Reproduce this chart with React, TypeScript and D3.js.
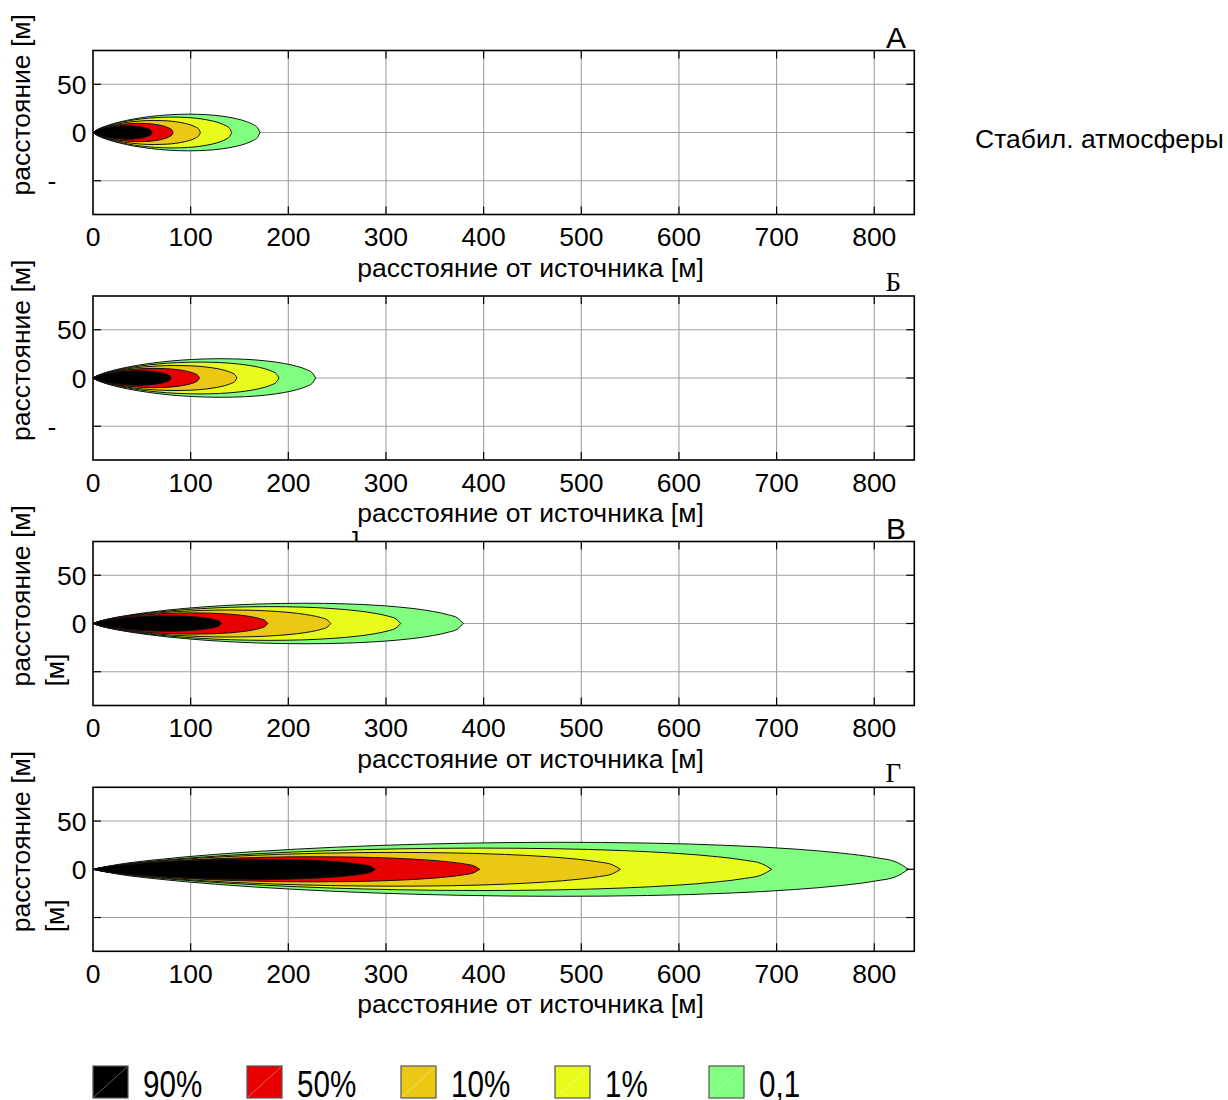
import React from "react";
import * as d3 from "d3";

// ---- data ----
const LEVEL_LABELS = ["90%", "50%", "10%", "1%", "0,1"];
const LEVEL_COLORS = ["#000000", "#e80000", "#ebc814", "#e8fc1c", "#80ff80"];
const PANEL_LETTERS = ["А", "Б", "В", "Г"];
const PANEL_LETTER_SERIF = [false, true, false, true];
const X_TICKS = [0, 100, 200, 300, 400, 500, 600, 700, 800];
const Y_TICKS = [-50, 0, 50];

// plume contour lengths (m) and maximum half widths (m), per panel, levels 90%..0,1
const LENGTH_A = [60.5, 82, 110, 142, 171];
const WIDTH_A = [7, 9.5, 12.5, 16, 19];
const LENGTH_B = [80, 109, 147.5, 190.5, 228];
const WIDTH_B = [7.5, 10, 13, 16.5, 20];
const LENGTH_C = [131.5, 179, 243.5, 315, 379];
const WIDTH_C = [8, 11, 14, 17.5, 21];
const LENGTH_D = [289, 396, 540, 695, 835];
const WIDTH_D = [10.5, 13, 17.5, 22, 28];

// contour outline template: relative distance along the plume -> relative half width
const PROFILE_F = [0, 0.03, 0.08, 0.15, 0.25, 0.35, 0.45, 0.57, 0.68, 0.78, 0.86, 0.92, 0.96, 0.985, 1];
const PROFILE_W = [0, 0.176, 0.362, 0.552, 0.747, 0.881, 0.963, 1, 0.971, 0.882, 0.75, 0.592, 0.431, 0.268, 0];

const PANEL_LENGTHS = [LENGTH_A, LENGTH_B, LENGTH_C, LENGTH_D];
const PANEL_WIDTHS = [WIDTH_A, WIDTH_B, WIDTH_C, WIDTH_D];
const Y_TITLE_SECOND_LINE = [false, false, true, true];
const NEG_LABEL = [true, true, false, false];

// ---- layout ----
const SANS = "'Liberation Sans', Arial, sans-serif";
const SERIF = "'Liberation Serif', 'Times New Roman', serif";
const FS = 26.5;
const PLOT_L = 93;
const PLOT_R = 914.3;
const PLOT_H = 164;
const TOPS = [50.5, 296, 541.5, 787.3];
const X_MAX = 841;
const Y_EXT = 85;

function Panel({ idx }: { idx: number }) {
  const top = TOPS[idx];
  const bottom = top + PLOT_H;
  const x = d3.scaleLinear().domain([0, X_MAX]).range([PLOT_L, PLOT_R]);
  const y = d3.scaleLinear().domain([-Y_EXT, Y_EXT]).range([bottom, top]);
  const lengths = PANEL_LENGTHS[idx];
  const widths = PANEL_WIDTHS[idx];
  const pts = PROFILE_F.map((f, i) => ({ f, w: PROFILE_W[i] }));
  const order = [4, 3, 2, 1, 0];
  const clipId = `clip${idx}`;
  const tickLen = 8;
  return (
    <g>
      <defs>
        <clipPath id={clipId}>
          <rect x={PLOT_L} y={top} width={PLOT_R - PLOT_L} height={PLOT_H} />
        </clipPath>
      </defs>
      {/* grid */}
      {X_TICKS.filter((t) => t > 0).map((t) => (
        <line key={"gx" + t} x1={x(t)} x2={x(t)} y1={top} y2={bottom} stroke="#a0a0a0" strokeWidth={1.1} />
      ))}
      {Y_TICKS.map((t) => (
        <line key={"gy" + t} x1={PLOT_L} x2={PLOT_R} y1={y(t)} y2={y(t)} stroke="#a0a0a0" strokeWidth={1.1} />
      ))}
      {/* plumes */}
      <g clipPath={`url(#${clipId})`}>
        {order.map((k) => {
          const L = lengths[k];
          const Wd = widths[k];
          const area = d3
            .area<{ f: number; w: number }>()
            .x((d) => x(d.f * L))
            .y0((d) => y(-d.w * Wd))
            .y1((d) => y(d.w * Wd))
            .curve(d3.curveMonotoneX);
          return (
            <path
              key={"p" + k}
              d={area(pts) || ""}
              fill={LEVEL_COLORS[k]}
              stroke="#111"
              strokeWidth={1}
              strokeLinejoin="round"
            />
          );
        })}
      </g>
      {/* inward ticks */}
      {X_TICKS.filter((t) => t > 0).map((t) => (
        <g key={"tx" + t}>
          <line x1={x(t)} x2={x(t)} y1={bottom} y2={bottom - tickLen} stroke="#000" strokeWidth={1.2} />
          <line x1={x(t)} x2={x(t)} y1={top} y2={top + tickLen} stroke="#000" strokeWidth={1.2} />
        </g>
      ))}
      {Y_TICKS.map((t) => (
        <g key={"ty" + t}>
          <line x1={PLOT_L} x2={PLOT_L + tickLen} y1={y(t)} y2={y(t)} stroke="#000" strokeWidth={1.2} />
          <line x1={PLOT_R} x2={PLOT_R - tickLen} y1={y(t)} y2={y(t)} stroke="#000" strokeWidth={1.2} />
        </g>
      ))}
      {/* frame */}
      <rect x={PLOT_L} y={top} width={PLOT_R - PLOT_L} height={PLOT_H} fill="none" stroke="#000" strokeWidth={1.6} />
      {/* x tick labels */}
      {X_TICKS.map((t) => (
        <text key={"lx" + t} x={x(t)} y={bottom + 31.5} textAnchor="middle" fontSize={FS} fontFamily={SANS}>
          {t}
        </text>
      ))}
      {/* y tick labels */}
      {Y_TICKS.filter((t) => t >= 0).map((t) => (
        <text key={"ly" + t} x={86.5} y={y(t) + 9.5} textAnchor="end" fontSize={FS} fontFamily={SANS}>
          {t}
        </text>
      ))}
      {NEG_LABEL[idx] && (
        <text x={47.5} y={y(-50) + 9.5} fontSize={FS} fontFamily={SANS}>
          -
        </text>
      )}
      {/* axis titles */}
      <text x={530.5} y={bottom + 62} textAnchor="middle" fontSize={FS} fontFamily={SANS}>
        расстояние от источника [м]
      </text>
      <text transform={`translate(30,${top + 145}) rotate(-90)`} fontSize={FS} fontFamily={SANS}>
        расстояние [м]
      </text>
      {Y_TITLE_SECOND_LINE[idx] && (
        <text transform={`translate(64,${top + 145}) rotate(-90)`} fontSize={FS} fontFamily={SANS}>
          [м]
        </text>
      )}
      {/* panel letter */}
      <text
        x={PANEL_LETTER_SERIF[idx] ? 901 : 906}
        y={PANEL_LETTER_SERIF[idx] ? top - 5 : top - 3}
        textAnchor="end"
        fontSize={PANEL_LETTER_SERIF[idx] ? 27 : 30}
        fontFamily={PANEL_LETTER_SERIF[idx] ? SERIF : SANS}
      >
        {PANEL_LETTERS[idx]}
      </text>
    </g>
  );
}

function Legend() {
  const x0 = 93;
  const step = 154;
  const yTop = 1066;
  const h = 32;
  const w = 35;
  return (
    <g>
      {LEVEL_LABELS.map((lab, i) => {
        const sx = x0 + i * step;
        return (
          <g key={lab}>
            <rect x={sx} y={yTop} width={w} height={h} fill={LEVEL_COLORS[i]} stroke="#555" strokeWidth={1.2} />
            <line x1={sx + 1} y1={yTop + h - 1} x2={sx + w - 1} y2={yTop + 1} stroke="#fff" strokeOpacity={0.35} strokeWidth={1} />
            <text
              transform={`translate(${sx + 50},${yTop + 30.5}) scale(0.8,1)`}
              fontSize={37}
              fontFamily={SANS}
            >
              {lab}
            </text>
          </g>
        );
      })}
    </g>
  );
}

export default function App() {
  return (
    <svg
      width={1228}
      height={1100}
      style={{ position: "absolute", left: 0, top: 0, background: "#fff" }}
      xmlns="http://www.w3.org/2000/svg"
    >
      <rect x={0} y={0} width={1228} height={1100} fill="#fff" />
      {[0, 1, 2, 3].map((i) => (
        <Panel key={i} idx={i} />
      ))}
      <defs>
        <clipPath id="bracketClip">
          <rect x={340} y={525} width={40} height={16} />
        </clipPath>
      </defs>
      <text x={352} y={550} fontSize={FS} fontFamily={SANS} clipPath="url(#bracketClip)">
        ]
      </text>
      <text x={975} y={148} fontSize={FS} fontFamily={SANS}>
        Стабил. атмосферы
      </text>
      <Legend />
    </svg>
  );
}
